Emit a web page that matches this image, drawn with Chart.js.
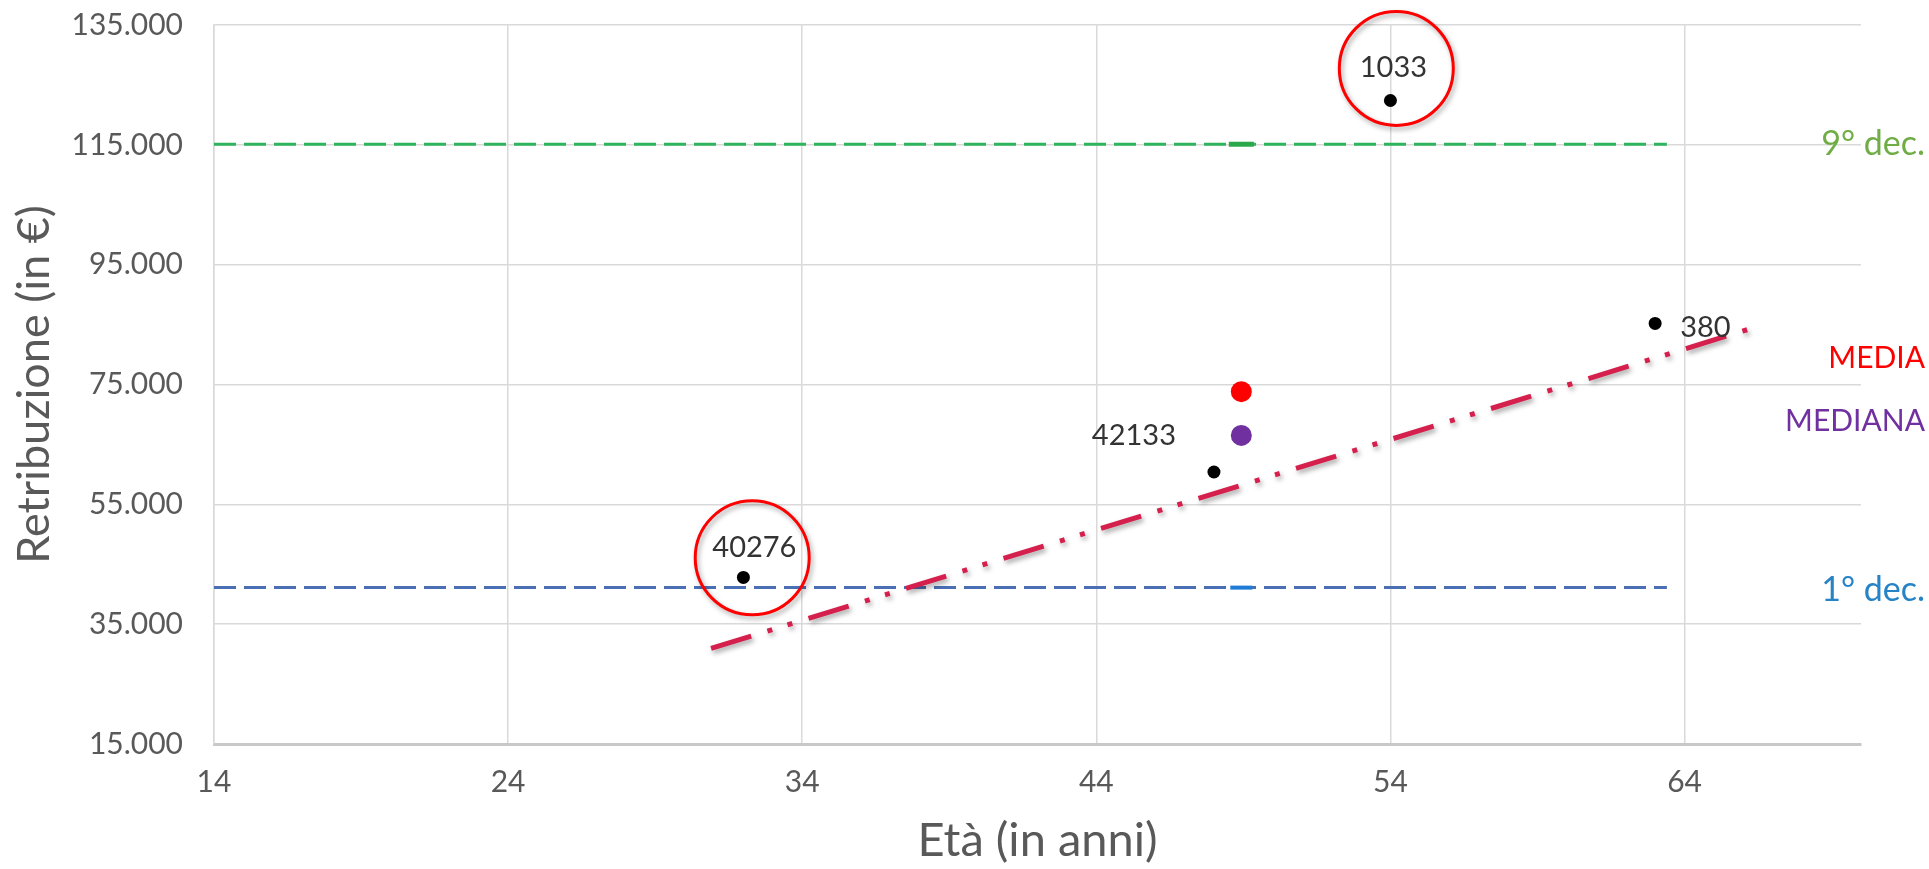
<!DOCTYPE html>
<html>
<head>
<meta charset="utf-8">
<script src="https://cdn.jsdelivr.net/npm/chart.js@4.4.1/dist/chart.umd.min.js"></script>
<style>
  html, body { margin: 0; padding: 0; background: #fff; }
  #wrap { width: 1929px; height: 869px; position: relative; }
</style>
</head>
<body>
<div id="wrap"><canvas id="chart"></canvas></div>
<script>
// assi
const xTicks = [14, 24, 34, 44, 54, 64];
const yTicks = [15000, 35000, 55000, 75000, 95000, 115000, 135000];
const xMin = 14, xMax = 70;

// dipendenti evidenziati
const empAge = [32, 48, 54, 63];
const empPay = [42800, 60400, 122400, 85200];
const empId = ['40276', '42133', '1033', '380'];

// media e mediana
const meanAge = [48.93];
const meanPay = [73800];
const medianPay = [66500];

// decili
const decAge = [14, 63.4];
const dec9Pay = [115100, 115100];
const dec1Pay = [41100, 41100];

// linea di tendenza
const trendAge = [30.9, 66.5];
const trendPay = [30960, 84700];

// cerchi rossi
const ringAge = [54.2, 32.3];
const ringPay = [127760, 46080];

const FONT = 'Lato, "Open Sans", sans-serif';
const toXY = (xs, ys) => xs.map((x, i) => ({ x: x, y: ys[i] }));
const fmt = v => String(v).replace(/\B(?=(\d{3})+(?!\d))/g, '.');

// posizione etichette dei punti (px rispetto al punto)
const empLabelStyle = {
  align: ['center', 'right', 'center', 'left'],
  dx: [11, -38, 3, 25],
  dy: [-30, -36, -33, 4]
};

// ombra per cerchi e linea di tendenza
const shadowPlugin = {
  id: 'shadow',
  beforeDatasetDraw(chart, args) {
    const ds = chart.data.datasets[args.index];
    if (!ds.shadow) return;
    const ctx = chart.ctx;
    ctx.save();
    ctx.shadowColor = 'rgba(0, 0, 0, 0.35)';
    ctx.shadowBlur = 5;
    ctx.shadowOffsetX = 2;
    ctx.shadowOffsetY = 3;
  },
  afterDatasetDraw(chart, args) {
    const ds = chart.data.datasets[args.index];
    if (ds.shadow) chart.ctx.restore();
  }
};

// etichette testo: numeri dipendenti + scritte a destra
const labelPlugin = {
  id: 'labels',
  afterDatasetsDraw(chart) {
    const ctx = chart.ctx;
    ctx.save();
    ctx.textBaseline = 'middle';

    const meta = chart.getDatasetMeta(0);
    ctx.font = '29px ' + FONT;
    ctx.fillStyle = '#333333';
    meta.data.forEach((pt, i) => {
      ctx.textAlign = empLabelStyle.align[i];
      ctx.fillText(empId[i], pt.x + empLabelStyle.dx[i], pt.y + empLabelStyle.dy[i]);
    });

    ctx.textAlign = 'right';
    chart.data.datasets.forEach((ds, i) => {
      if (!ds.sideLabel) return;
      const y = chart.scales.y.getPixelForValue(ds.data[0].y) + ds.sideLabel.dy;
      ctx.font = ds.sideLabel.size + 'px ' + FONT;
      ctx.fillStyle = ds.sideLabel.color;
      ctx.fillText(ds.sideLabel.text, chart.width - 4, y);
    });
    ctx.restore();
  }
};

const ctx = document.getElementById('chart').getContext('2d');
const chart = new Chart(ctx, {
  type: 'scatter',
  data: {
    datasets: [
      {
        label: 'Dipendenti',
        data: toXY(empAge, empPay),
        backgroundColor: '#000000',
        borderColor: '#000000',
        pointRadius: 6.5,
        borderWidth: 0
      },
      {
        label: 'Media',
        data: toXY(meanAge, meanPay),
        backgroundColor: '#ff0000',
        borderColor: '#ff0000',
        pointRadius: 10.5,
        borderWidth: 0,
        sideLabel: { text: 'MEDIA', color: '#ff0000', dy: -33, size: 30 }
      },
      {
        label: 'Mediana',
        data: toXY(meanAge, medianPay),
        backgroundColor: '#7030a0',
        borderColor: '#7030a0',
        pointRadius: 10.5,
        borderWidth: 0,
        sideLabel: { text: 'MEDIANA', color: '#7030a0', dy: -14, size: 30 }
      },
      {
        label: 'Cerchi',
        data: toXY(ringAge, ringPay),
        backgroundColor: 'rgba(0,0,0,0)',
        borderColor: '#ff0000',
        pointRadius: 57,
        borderWidth: 3,
        shadow: true,
        clip: false
      },
      {
        label: '9 dec marker',
        data: toXY(meanAge, [dec9Pay[0]]),
        pointStyle: 'line',
        pointRadius: 12.5,
        borderWidth: 5,
        borderColor: '#2aa84a'
      },
      {
        label: '1 dec marker',
        data: toXY(meanAge, [dec1Pay[0]]),
        pointStyle: 'line',
        pointRadius: 11,
        borderWidth: 4,
        borderColor: '#1e7bd6'
      },
      {
        label: 'Tendenza',
        data: toXY(trendAge, trendPay),
        showLine: true,
        pointRadius: 0,
        borderColor: '#d51f4c',
        borderWidth: 5,
        borderDash: [42, 17, 5, 16, 5, 17],
        shadow: true
      },
      {
        label: '9° dec.',
        data: toXY(decAge, dec9Pay),
        showLine: true,
        pointRadius: 0,
        borderColor: '#2fb45e',
        borderWidth: 3,
        borderDash: [22, 8],
        sideLabel: { text: '9° dec.', color: '#70ad47', dy: 0, size: 34 }
      },
      {
        label: '1° dec.',
        data: toXY(decAge, dec1Pay),
        showLine: true,
        pointRadius: 0,
        borderColor: '#4a6fb5',
        borderWidth: 3,
        borderDash: [22, 8],
        sideLabel: { text: '1° dec.', color: '#2683c6', dy: 2, size: 34 }
      }
    ]
  },
  options: {
    responsive: true,
    maintainAspectRatio: false,
    animation: false,
    layout: {
      autoPadding: false,
      padding: { top: 25, right: 68, left: 0, bottom: 0 }
    },
    plugins: {
      legend: { display: false },
      tooltip: { enabled: false }
    },
    scales: {
      x: {
        type: 'linear',
        min: xMin,
        max: xMax,
        afterBuildTicks: axis => { axis.ticks = xTicks.map(v => ({ value: v })); },
        afterFit: axis => { axis.height = 125; },
        grid: { color: '#d9d9d9', lineWidth: 1.5, drawTicks: true, tickLength: 20, tickColor: 'rgba(0,0,0,0)' },
        border: { display: true, color: '#c8c8c8', width: 3 },
        ticks: {
          padding: 0,
          color: '#595959',
          font: { family: FONT, size: 30 },
          callback: v => String(v)
        },
        title: {
          display: true,
          text: 'Età (in anni)',
          color: '#595959',
          font: { family: FONT, size: 47 },
          padding: { top: 0, bottom: 0 }
        }
      },
      y: {
        type: 'linear',
        min: 15000,
        max: 135000,
        afterBuildTicks: axis => { axis.ticks = yTicks.map(v => ({ value: v })); },
        afterFit: axis => { axis.width = 214; },
        grid: { color: '#d9d9d9', lineWidth: 1.5, drawTicks: true, tickLength: 31, tickColor: 'rgba(0,0,0,0)' },
        border: { display: true, color: '#d9d9d9', width: 1.5 },
        ticks: {
          padding: 0,
          color: '#595959',
          font: { family: FONT, size: 30 },
          callback: v => fmt(v)
        },
        title: {
          display: true,
          text: 'Retribuzione (in €)',
          color: '#595959',
          font: { family: FONT, size: 45 },
          padding: { top: 7, bottom: 0 }
        }
      }
    }
  },
  plugins: [shadowPlugin, labelPlugin]
});
</script>
</body>
</html>
